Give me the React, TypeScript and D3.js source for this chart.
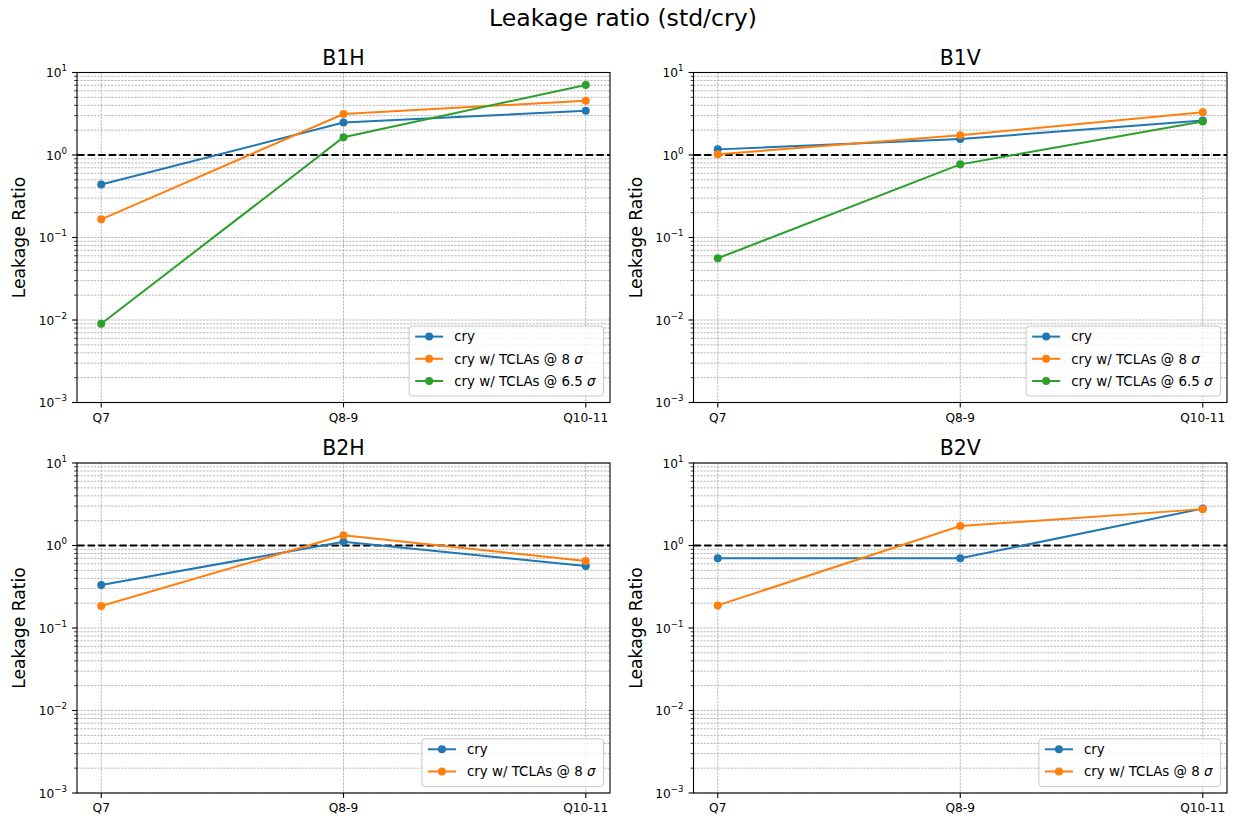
import React from "react";
import * as d3 from "d3";

const quadrants = ["Q7", "Q8-9", "Q10-11"];
const panelNames = ["B1H", "B1V", "B2H", "B2V"];
const seriesNames = ["cry", "cry w/ TCLAs @ 8", "cry w/ TCLAs @ 6.5"];
const seriesColors = ["#1f77b4", "#ff7f0e", "#2ca02c"];

const b1hCry = [0.44, 2.47, 3.44];
const b1hTcla8 = [0.166, 3.14, 4.55];
const b1hTcla65 = [0.009, 1.64, 7.06];

const b1vCry = [1.17, 1.56, 2.62];
const b1vTcla8 = [1.02, 1.73, 3.3];
const b1vTcla65 = [0.056, 0.77, 2.54];

const b2hCry = [0.332, 1.11, 0.565];
const b2hTcla8 = [0.185, 1.33, 0.65];

const b2vCry = [0.7, 0.7, 2.8];
const b2vTcla8 = [0.188, 1.72, 2.76];

const panelSeries = [
  [b1hCry, b1hTcla8, b1hTcla65],
  [b1vCry, b1vTcla8, b1vTcla65],
  [b2hCry, b2hTcla8],
  [b2vCry, b2vTcla8],
];

const yDomain = [1e-3, 1e1];
const refLine = 1;

const W = 1246;
const H = 816;
const FONT = "DejaVu Sans, Verdana, sans-serif";

const boxes = [
  { x0: 77, x1: 610, y0: 72.5, y1: 402.5 },
  { x0: 693.5, x1: 1227, y0: 72.5, y1: 402.5 },
  { x0: 77, x1: 610, y0: 463, y1: 793 },
  { x0: 693.5, x1: 1227, y0: 463, y1: 793 },
];

function measure(text: string, size: number) {
  try {
    const c = document.createElement("canvas");
    const ctx = c.getContext("2d")!;
    ctx.font = `${size}px DejaVu Sans`;
    return ctx.measureText(text).width;
  } catch (e) {
    return text.length * size * 0.6;
  }
}

function Panel({ idx }: { idx: number }) {
  const b = boxes[idx];
  const x = d3.scalePoint<string>().domain(quadrants).range([b.x0, b.x1]).padding(0.1);
  const y = d3.scaleLog().domain(yDomain).range([b.y1, b.y0]);
  const series = panelSeries[idx];

  const majors = [-3, -2, -1, 0, 1].map((e) => Math.pow(10, e));
  const minors: number[] = [];
  for (let e = -3; e < 1; e++) for (let m = 2; m <= 9; m++) minors.push(m * Math.pow(10, e));

  const line = d3
    .line<number>()
    .x((_, i) => x(quadrants[i])!)
    .y((v) => y(v));

  const gridStyle = { stroke: "#a4a4a4", strokeWidth: 0.8, strokeDasharray: "2.2,1.2" };

  // legend
  const legFont = 13.4;
  const nEntries = series.length;
  const maxText = Math.max(
    ...seriesNames.slice(0, nEntries).map((s) => measure(s + " σ", legFont))
  );
  const legW = 6 + 28 + 11 + maxText + 8;
  const rowH = 22.2;
  const legH = 10.5 + (nEntries - 1) * rowH + 15;
  const legX1 = b.x1 - 6.5;
  const legY1 = b.y1 - 6.5;
  const legX0 = legX1 - legW;
  const legY0 = legY1 - legH;

  return (
    <g>
      {minors.map((v, i) => (
        <line key={"mn" + i} x1={b.x0} x2={b.x1} y1={y(v)} y2={y(v)} {...gridStyle} />
      ))}
      {majors.map((v, i) => (
        <line key={"mj" + i} x1={b.x0} x2={b.x1} y1={y(v)} y2={y(v)} {...gridStyle} />
      ))}
      {quadrants.map((q) => (
        <line key={"vg" + q} x1={x(q)} x2={x(q)} y1={b.y0} y2={b.y1} {...gridStyle} />
      ))}
      <line
        x1={b.x0}
        x2={b.x1}
        y1={y(refLine)}
        y2={y(refLine)}
        stroke="#000"
        strokeWidth={2}
        strokeDasharray="7.4,3.2"
      />
      {series.map((vals, si) => (
        <g key={"s" + si}>
          <path d={line(vals)!} fill="none" stroke={seriesColors[si]} strokeWidth={2} />
          {vals.map((v, i) => (
            <circle key={i} cx={x(quadrants[i])} cy={y(v)} r={4} fill={seriesColors[si]} />
          ))}
        </g>
      ))}
      <rect
        x={b.x0}
        y={b.y0}
        width={b.x1 - b.x0}
        height={b.y1 - b.y0}
        fill="none"
        stroke="#000"
        strokeWidth={1.1}
      />
      {minors.map((v, i) => (
        <line key={"mt" + i} x1={b.x0 - 2.8} x2={b.x0} y1={y(v)} y2={y(v)} stroke="#000" strokeWidth={0.8} />
      ))}
      {majors.map((v, i) => {
        const e = Math.round(Math.log10(v));
        return (
          <g key={"Mt" + i}>
            <line x1={b.x0 - 4.9} x2={b.x0} y1={y(v)} y2={y(v)} stroke="#000" strokeWidth={1.1} />
            <text
              x={b.x0 - 10}
              y={y(v) + 4.7}
              textAnchor="end"
              fontFamily={FONT}
              fontSize={12.2}
              fill="#000"
            >
              10
              <tspan fontSize={8.6} dy={-5.8}>
                {e < 0 ? "\u2212" + Math.abs(e) : String(e)}
              </tspan>
            </text>
          </g>
        );
      })}
      {quadrants.map((q) => (
        <g key={"xt" + q}>
          <line x1={x(q)} x2={x(q)} y1={b.y1} y2={b.y1 + 4.9} stroke="#000" strokeWidth={1.1} />
          <text x={x(q)} y={b.y1 + 19} textAnchor="middle" fontFamily={FONT} fontSize={12.2} fill="#000">
            {q}
          </text>
        </g>
      ))}
      <text
        x={(b.x0 + b.x1) / 2}
        y={b.y0 - 8}
        textAnchor="middle"
        fontFamily={FONT}
        fontSize={20.5}
        fill="#000"
      >
        {panelNames[idx]}
      </text>
      <text
        transform={`translate(${b.x0 - 52},${(b.y0 + b.y1) / 2}) rotate(-90)`}
        textAnchor="middle"
        fontFamily={FONT}
        fontSize={17.2}
        fill="#000"
      >
        Leakage Ratio
      </text>
      <rect
        x={legX0}
        y={legY0}
        width={legW}
        height={legH}
        rx={3}
        fill="#fff"
        fillOpacity={0.8}
        stroke="#c8c8c8"
        strokeWidth={1}
      />
      {series.map((_, si) => {
        const cy = legY0 + 10.5 + si * rowH;
        return (
          <g key={"lg" + si}>
            <line
              x1={legX0 + 6}
              x2={legX0 + 34}
              y1={cy}
              y2={cy}
              stroke={seriesColors[si]}
              strokeWidth={2}
            />
            <circle cx={legX0 + 20} cy={cy} r={4} fill={seriesColors[si]} />
            <text x={legX0 + 45} y={cy + 4.8} fontFamily={FONT} fontSize={legFont} fill="#000">
              {seriesNames[si]}
              {si > 0 ? <tspan fontStyle="italic">{" σ"}</tspan> : null}
            </text>
          </g>
        );
      })}
    </g>
  );
}

export default function App() {
  return (
    <svg width={W} height={H} style={{ display: "block", position: "absolute", left: 0, top: 0 }}>
      <rect width={W} height={H} fill="#fff" />
      <text x={623} y={26} textAnchor="middle" fontFamily={FONT} fontSize={23.6} fill="#000">
        Leakage ratio (std/cry)
      </text>
      {panelNames.map((_, i) => (
        <Panel key={i} idx={i} />
      ))}
    </svg>
  );
}
